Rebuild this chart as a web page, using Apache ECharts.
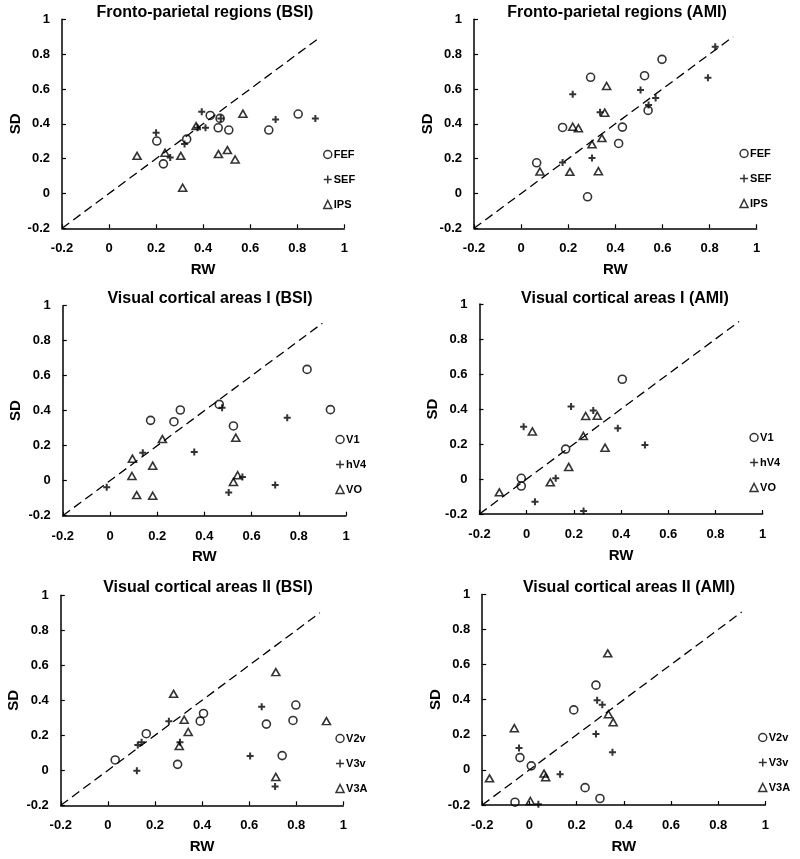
<!DOCTYPE html>
<html><head><meta charset="utf-8">
<script src="https://cdn.jsdelivr.net/npm/echarts@6/dist/echarts.min.js"></script>
<style>html,body{margin:0;padding:0;background:#fff}#c{width:800px;height:859px}</style>
</head><body><div id="c"></div>
<script>
// ---- axis / reference values ----
const axisMin = -0.2, axisMax = 1, axisStep = 0.2;
const identityLine = [[-0.2, -0.2], [0.9, 0.9]];
const xAxisName = 'RW', yAxisName = 'SD';

const panelTitles = [
  'Fronto-parietal regions (BSI)', 'Fronto-parietal regions (AMI)',
  'Visual cortical areas I (BSI)', 'Visual cortical areas I (AMI)',
  'Visual cortical areas II (BSI)', 'Visual cortical areas II (AMI)'
];
const legendNames = [
  ['FEF', 'SEF', 'IPS'], ['FEF', 'SEF', 'IPS'],
  ['V1', 'hV4', 'VO'], ['V1', 'hV4', 'VO'],
  ['V2v', 'V3v', 'V3A'], ['V2v', 'V3v', 'V3A']
];

// ---- data: [RW, SD] ----
const fefBSI = [[0.203,0.301],[0.231,0.170],[0.330,0.312],[0.430,0.448],[0.472,0.431],[0.464,0.377],[0.509,0.364],[0.679,0.364],[0.804,0.456]];
const sefBSI = [[0.200,0.349],[0.260,0.207],[0.321,0.284],[0.394,0.469],[0.376,0.377],[0.410,0.377],[0.475,0.430],[0.708,0.425],[0.877,0.431]];
const ipsBSI = [[0.119,0.216],[0.238,0.234],[0.305,0.216],[0.313,0.033],[0.370,0.387],[0.465,0.226],[0.503,0.249],[0.536,0.195],[0.569,0.458]];

const fefAMI = [[0.066,0.176],[0.176,0.379],[0.295,0.667],[0.282,-0.019],[0.414,0.287],[0.430,0.381],[0.524,0.676],[0.539,0.477],[0.598,0.770]];
const sefAMI = [[0.176,0.178],[0.219,0.569],[0.301,0.203],[0.335,0.466],[0.507,0.594],[0.541,0.508],[0.571,0.548],[0.793,0.665],[0.824,0.843]];
const ipsAMI = [[0.080,0.126],[0.207,0.124],[0.219,0.383],[0.243,0.375],[0.301,0.282],[0.328,0.128],[0.343,0.318],[0.355,0.464],[0.363,0.617]];

const v1BSI  = [[0.172,0.345],[0.271,0.337],[0.298,0.404],[0.463,0.436],[0.523,0.313],[0.835,0.636],[0.934,0.406]];
const hv4BSI = [[-0.014,-0.038],[0.139,0.160],[0.357,0.164],[0.475,0.417],[0.503,-0.068],[0.561,0.021],[0.700,-0.025],[0.751,0.360]];
const voBSI  = [[0.095,0.126],[0.093,0.027],[0.113,-0.082],[0.181,0.086],[0.181,-0.086],[0.222,0.238],[0.523,-0.007],[0.541,0.031],[0.533,0.246]];

const v1AMI  = [[0.405,0.570],[0.165,0.171],[-0.023,0.004],[-0.023,-0.040]];
const hv4AMI = [[-0.013,0.299],[0.035,-0.130],[0.123,0.004],[0.188,0.415],[0.282,0.392],[0.386,0.290],[0.501,0.194],[0.241,-0.183]];
const voAMI  = [[-0.116,-0.076],[0.024,0.272],[0.100,-0.019],[0.178,0.069],[0.240,0.246],[0.250,0.360],[0.299,0.362],[0.332,0.179]];

const v2vBSI = [[0.031,0.059],[0.163,0.209],[0.296,0.034],[0.392,0.281],[0.406,0.325],[0.673,0.264],[0.740,0.084],[0.786,0.285],[0.798,0.373]];
const v3vBSI = [[0.123,-0.002],[0.127,0.144],[0.143,0.160],[0.259,0.281],[0.306,0.160],[0.604,0.082],[0.653,0.363],[0.710,-0.093]];
const v3aBSI = [[0.279,0.437],[0.303,0.139],[0.324,0.289],[0.341,0.219],[0.713,0.561],[0.713,-0.038],[0.928,0.281]];

const v2vAMI = [[-0.061,-0.184],[-0.040,0.070],[0.008,0.023],[0.188,0.342],[0.236,-0.101],[0.282,0.483],[0.299,-0.163]];
const v3vAMI = [[-0.044,0.125],[0.038,-0.196],[0.130,-0.025],[0.282,0.205],[0.287,0.397],[0.309,0.371],[0.352,0.101]];
const v3aAMI = [[-0.169,-0.048],[-0.064,0.238],[0.004,-0.177],[0.062,-0.021],[0.069,-0.042],[0.332,0.664],[0.335,0.317],[0.355,0.272]];

const panelData = [
  [fefBSI, sefBSI, ipsBSI], [fefAMI, sefAMI, ipsAMI],
  [v1BSI, hv4BSI, voBSI], [v1AMI, hv4AMI, voAMI],
  [v2vBSI, v3vBSI, v3aBSI], [v2vAMI, v3vAMI, v3aAMI]
];

// ---- layout (pixels) ----
const grids = [
  {left: 62,    top: 19.3,  width: 282.3, height: 209},
  {left: 474,   top: 19.3,  width: 282.7, height: 209},
  {left: 62.8,  top: 305.7, width: 283.2, height: 210},
  {left: 479.5, top: 304,   width: 283.2, height: 210},
  {left: 60.8,  top: 595.3, width: 282.6, height: 210},
  {left: 482.2, top: 594.4, width: 283.2, height: 210.6}
];
const titlePos = [[205, 13], [617, 13], [210, 299], [625, 299], [208, 588], [629, 588]];
const legendPos = [[323, 149], [739.3, 148], [335.3, 434], [749.3, 432], [335.3, 733], [758, 732]];

const FONT = '"Liberation Sans", Arial, sans-serif';
const symbols = ['circle', 'path://M0,5H10M5,0V10', 'triangle'];
const symbolSizes = [8, 7, [8, 7]];

const option = {
  backgroundColor: '#fff',
  animation: false,
  grid: grids.map(g => Object.assign({show: false}, g)),
  xAxis: grids.map((g, i) => ({
    gridIndex: i, type: 'value', min: axisMin, max: axisMax, interval: axisStep,
    name: xAxisName, nameLocation: 'middle', nameGap: 34,
    nameTextStyle: {fontFamily: FONT, fontWeight: 'bold', fontSize: 15, color: '#000'},
    axisLine: {onZero: false, lineStyle: {color: '#000', width: 1.5}},
    axisTick: {inside: true, length: 4, lineStyle: {color: '#000', width: 1.2}},
    axisLabel: {fontFamily: FONT, fontWeight: 'bold', fontSize: 13, color: '#000', margin: 14},
    splitLine: {show: false}
  })),
  yAxis: grids.map((g, i) => ({
    gridIndex: i, type: 'value', min: axisMin, max: axisMax, interval: axisStep,
    name: yAxisName, nameLocation: 'middle', nameGap: 39, nameRotate: 90,
    nameTextStyle: {fontFamily: FONT, fontWeight: 'bold', fontSize: 15, color: '#000'},
    axisLine: {onZero: false, lineStyle: {color: '#000', width: 1.5}},
    axisTick: {inside: true, length: 4, lineStyle: {color: '#000', width: 1.2}},
    axisLabel: {fontFamily: FONT, fontWeight: 'bold', fontSize: 13, color: '#000', margin: 12},
    splitLine: {show: false}
  })),
  legend: legendNames.map((names, i) => ({
    data: names, orient: 'vertical', left: legendPos[i][0], top: legendPos[i][1],
    padding: 0, itemGap: 14, itemWidth: 8, itemHeight: 8, selectedMode: false,
    itemStyle: {color: 'transparent', borderColor: '#000', borderWidth: 1.5},
    textStyle: {fontFamily: FONT, fontWeight: 'bold', fontSize: 11, color: '#000', padding: [0, 0, 0, -3]}
  })),
  graphic: panelTitles.map((t, i) => ({
    type: 'text', x: titlePos[i][0], y: titlePos[i][1],
    style: {text: t, fill: '#000', font: 'bold 16px ' + FONT, textAlign: 'center', textVerticalAlign: 'middle'}
  })),
  series: []
};

panelData.forEach((sets, i) => {
  option.series.push({
    type: 'line', xAxisIndex: i, yAxisIndex: i, data: identityLine,
    symbol: 'none', silent: true, z: 1,
    lineStyle: {color: '#000', width: 1.3, type: [9, 5]}
  });
  sets.forEach((d, k) => {
    option.series.push({
      type: 'scatter', name: legendNames[i][k], xAxisIndex: i, yAxisIndex: i, data: d,
      symbol: symbols[k], symbolSize: symbolSizes[k], z: 3,
      itemStyle: {color: 'transparent', borderColor: '#000', borderWidth: k === 1 ? 2 : 1.6}
    });
  });
});

const chart = echarts.init(document.getElementById('c'), null, {renderer: 'canvas'});
chart.setOption(option);
</script></body></html>
